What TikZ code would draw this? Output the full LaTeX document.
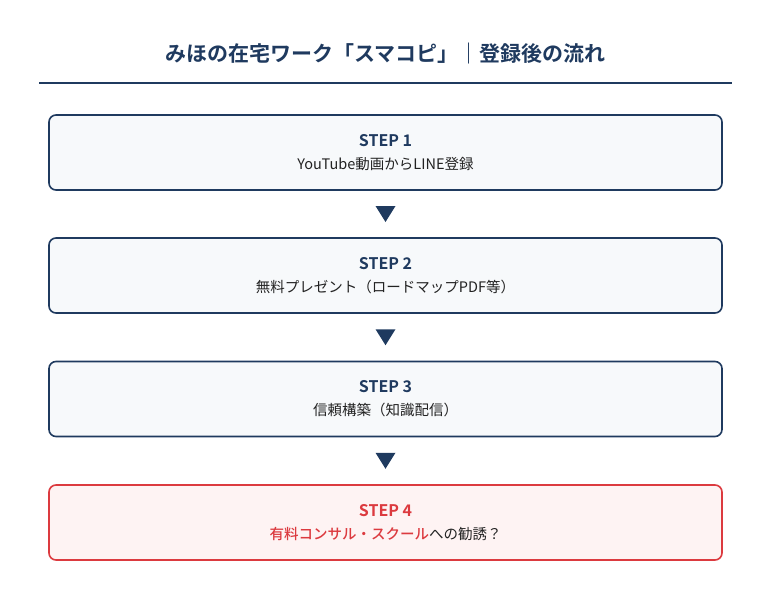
\documentclass[tikz,border=0pt]{standalone}
\usepackage{fontspec}
\setmainfont{Noto Sans CJK JP}
\newfontfamily\jpbold{Noto Sans CJK JP Bold}
\newfontfamily\jpmedium{Noto Sans CJK JP Medium}
\usetikzlibrary{positioning}
\definecolor{navy}{HTML}{1F3A5F}
\definecolor{boxfill}{HTML}{F7F9FB}
\definecolor{alertred}{HTML}{DC3A3F}
\definecolor{alertfill}{HTML}{FEF3F3}
\definecolor{bodytext}{HTML}{222222}
\tikzset{
  stepbox/.style={draw=navy, line width=1.6pt, fill=boxfill, rounded corners=7pt, minimum width=673pt, minimum height=75pt, align=center, text=bodytext, font=\fontsize{14.5}{23}\selectfont},
  alertbox/.style={stepbox, draw=alertred, fill=alertfill},
  downarrow/.style={fill=navy, draw=none}
}
\newcommand{\steptitle}[1]{{\jpbold\fontsize{16}{23}\selectfont\color{navy}#1}}
\begin{document}
\begin{tikzpicture}[x=1pt,y=-1pt]
    \useasboundingbox (0,0) rectangle (771,600);
    % Title
    \node[font=\jpbold\fontsize{21}{24}\selectfont, text=navy] (title) at (385.5,54) {みほの在宅ワーク「スマコピ」｜登録後の流れ};
    \draw[navy, line width=2.5pt] (39,83) -- (732,83);

    % Steps
    \node[stepbox] (step1) at (385.5,152.5) {\steptitle{STEP 1}\\YouTube動画からLINE登録};
    \node[stepbox] (step2) at (385.5,275.5) {\steptitle{STEP 2}\\無料プレゼント（ロードマップPDF等）};
    \node[stepbox] (step3) at (385.5,399) {\steptitle{STEP 3}\\信頼構築（知識配信）};
    \node[alertbox] (step4) at (385.5,522.5) {{\jpbold\fontsize{16}{23}\selectfont\color{alertred}STEP 4}\\{\jpmedium\color{alertred}有料コンサル・スクール}への勧誘？};

    % Arrows between steps
    \foreach \a/\b in {step1/step2, step2/step3, step3/step4}{
        \path (\a.south) -- (\b.north) coordinate[pos=0.5] (mid);
        \fill[downarrow] ([xshift=-10pt,yshift=8pt]mid) -- ([xshift=10pt,yshift=8pt]mid) -- ([yshift=-8pt]mid) -- cycle;
    }
\end{tikzpicture}
\end{document}
